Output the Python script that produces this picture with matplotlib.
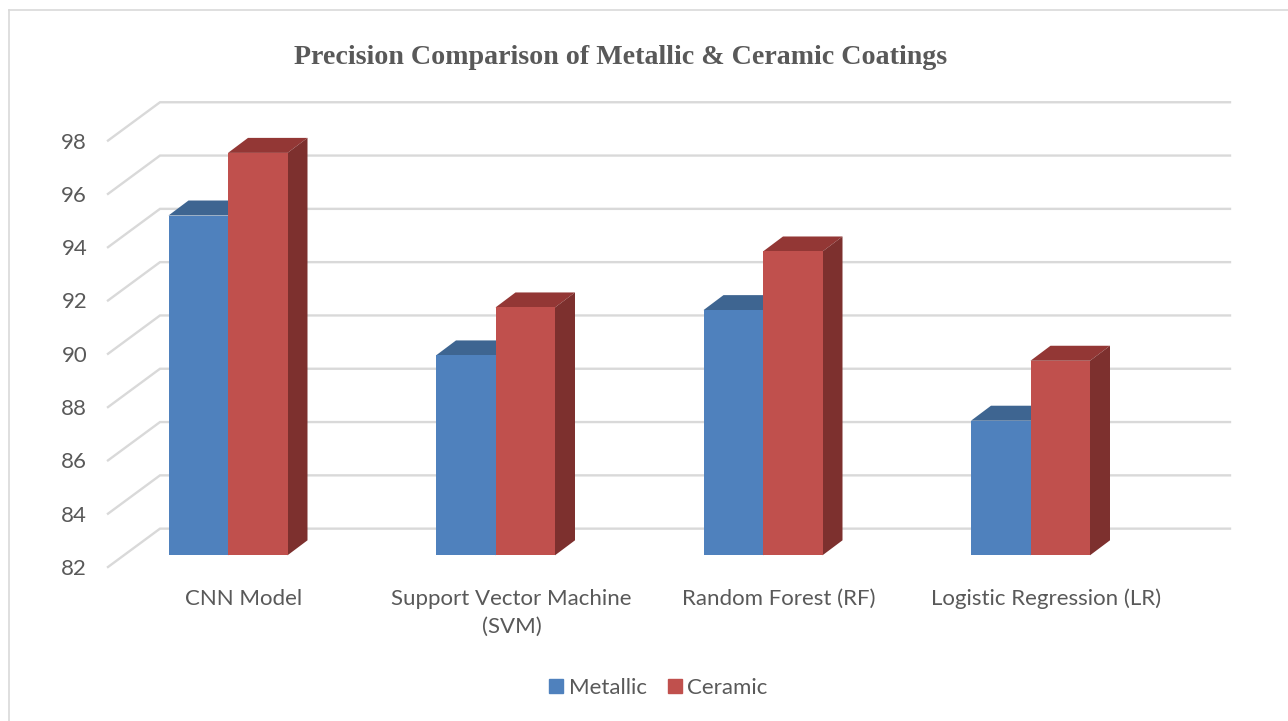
import matplotlib
matplotlib.use('Agg')
from matplotlib import pyplot as plt
from matplotlib.lines import Line2D
from matplotlib.patches import Patch

categories = ['CNN Model', 'Support Vector Machine\n(SVM)', 'Random Forest (RF)', 'Logistic Regression (LR)']
metallic = [94.75, 89.5, 91.2, 87.05]
ceramic = [97.1, 91.3, 93.4, 89.3]
y_ticks = [82, 84, 86, 88, 90, 92, 94, 96, 98]

W, H = 1288, 721
BLUE, RED = '#4F81BD', '#C0504D'
BLUE_TOP, BLUE_SIDE = '#3E6591', '#385D8A'
RED_TOP, RED_SIDE = '#933735', '#7D302E'
GRID = '#D9D9D9'
TEXT = '#595959'

# pixel layout of the plot, converted to data units below
px_x, px_y = 267.5, 26.65
left, right, bottom, top = 108, 1230, 567, 102.3
base_x, base_y = 228, 555.3

fig = plt.figure(figsize=(W / 100, H / 100), dpi=100)
ax = fig.add_axes([left / W, 1 - bottom / H, (right - left) / W, (bottom - top) / H])
ax.set_xlim((left - base_x) / px_x, (right - base_x) / px_x)
ax.set_ylim(82 - (bottom - base_y) / px_y, 82 + (base_y - top) / px_y)
for s in ax.spines.values():
    s.set_visible(False)
ax.patch.set_alpha(0)

width = 59.5 / px_x
dx, dy = 20 / px_x, 15 / px_y
wall_dy = 1.0
front_dy = (bottom - base_y) / px_y
x_min = (left - base_x) / px_x
x_wall = (160 - base_x) / px_x
x_max = (right - base_x) / px_x

# back wall grid and the floor/side diagonals
for v in y_ticks:
    ax.plot([x_min, x_wall, x_max], [v - front_dy, v + wall_dy, v + wall_dy],
            color=GRID, lw=1.7, zorder=1, clip_on=False, solid_joinstyle='miter')


def draw_bars(xs, vals, face, top_col, side_col, z):
    ax.bar(xs, [v - 82 for v in vals], width, bottom=82, color=face, align='edge', zorder=z + 1, clip_on=False)
    for x, v in zip(xs, vals):
        ax.fill([x, x + dx, x + width + dx, x + width], [v, v + dy, v + dy, v],
                color=top_col, lw=0, zorder=z, clip_on=False)
        ax.fill([x + width, x + width + dx, x + width + dx, x + width], [v, v + dy, 82 + dy, 82],
                color=side_col, lw=0, zorder=z, clip_on=False)


pos = list(range(len(categories)))
draw_bars([p - width for p in pos], metallic, BLUE, BLUE_TOP, BLUE_SIDE, 2)
draw_bars(pos, ceramic, RED, RED_TOP, RED_SIDE, 4)

ax.set_yticks([v - front_dy for v in y_ticks], [str(v) for v in y_ticks])
ax.set_xticks([p + 0.8 * dx for p in pos], categories)
ax.tick_params(axis='both', length=0, labelcolor=TEXT, labelsize=16)
ax.tick_params(axis='x', pad=15.7)
ax.tick_params(axis='y', pad=15)
for lab in ax.get_xticklabels():
    lab.set_family('Lato')
    lab.set_linespacing(1.5)
for lab in ax.get_yticklabels():
    lab.set_family('Lato')

fig.text(620.5 / W, 1 - 58 / H, 'Precision Comparison of Metallic & Ceramic Coatings',
         family='Liberation Serif', weight='bold', fontsize=20.2, color=TEXT, ha='center', va='center')

handles = [Patch(color=BLUE, label='Metallic'), Patch(color=RED, label='Ceramic')]
fig.legend(handles=handles, loc='center', bbox_to_anchor=(658.5 / W, 1 - 688 / H), ncol=2, frameon=False,
           prop={'family': 'Lato', 'size': 16}, labelcolor=TEXT, handlelength=0.63, handleheight=0.63,
           handletextpad=0.25, columnspacing=0.95)

# outer chart border: only top and left show in the crop
fig.add_artist(Line2D([9 / W, 9 / W], [0, 1 - 10 / H], color=GRID, lw=1.2))
fig.add_artist(Line2D([9 / W, 1], [1 - 10 / H, 1 - 10 / H], color=GRID, lw=1.2))

fig.savefig('out.png', dpi=100)
